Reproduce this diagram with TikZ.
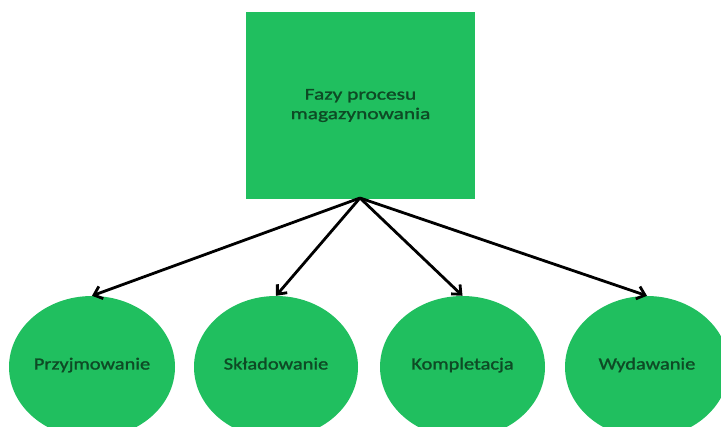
\documentclass[tikz,border=0pt]{standalone}
\usepackage{fontspec}
\setmainfont{Carlito}
\newfontfamily\phasefont[FakeBold=1.4,FakeStretch=1.2]{Carlito}
\newfontfamily\topfont[FakeBold=1.4,FakeStretch=1.3]{Carlito}
\usetikzlibrary{shapes.geometric,arrows.meta}
\definecolor{boxgreen}{HTML}{20BF5F}
\definecolor{txtgreen}{HTML}{0E4A25}
\tikzset{
  phasebox/.style={draw=none,fill=boxgreen,minimum width=229pt,minimum height=187pt,inner sep=0pt,
    text=txtgreen,font=\topfont\fontsize{16.5}{19.5}\selectfont,align=center},
  phase/.style={ellipse,draw=none,fill=boxgreen,minimum height=142pt,inner sep=0pt,
    text height=11pt,text depth=6pt,
    text=txtgreen,font=\phasefont\fontsize{17}{20}\selectfont},
  link/.style={draw=black,line width=2.8pt,-{Straight Barb[length=7.5pt,width=13pt,line width=2.8pt]}}
}
\begin{document}
\begin{tikzpicture}[x=1pt,y=-1pt]
\useasboundingbox (0,0) rectangle (721,427);
\clip (0,0) rectangle (721,427);
\node[phasebox] (top) at (360.5,105.5) {Fazy procesu\\magazynowania};
\node[phase,minimum width=166pt] (p1) at (92,367) {Przyjmowanie};
\node[phase,minimum width=164pt] (p2) at (276,367) {Składowanie};
\node[phase,minimum width=165pt] (p3) at (462.5,367) {Kompletacja};
\node[phase,minimum width=164pt] (p4) at (647,367) {Wydawanie};
\coordinate (src) at (360,198);
\draw[link] (src) -- (p1.north);
\draw[link] (src) -- (p2.north);
\draw[link] (src) -- (p3.north);
\draw[link] (src) -- (p4.north);
\end{tikzpicture}
\end{document}
